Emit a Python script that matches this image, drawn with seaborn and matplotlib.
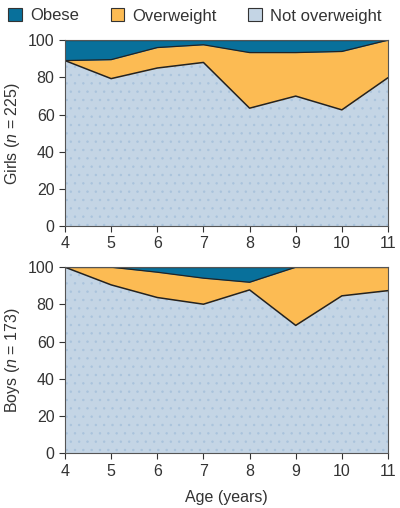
import numpy as np
import pandas as pd
import seaborn as sns
import matplotlib.pyplot as plt
from matplotlib.patches import Patch

# ===== data (percent of children) =====
ages = [4, 5, 6, 7, 8, 9, 10, 11]

girls_not_overweight = [89.0, 79.3, 85.0, 88.0, 63.4, 69.9, 62.5, 79.8]
girls_overweight = [0.0, 10.2, 11.0, 9.5, 29.9, 23.4, 31.4, 20.2]
girls_obese = [11.0, 10.5, 4.0, 2.5, 6.7, 6.7, 6.1, 0.0]

boys_not_overweight = [100.0, 90.5, 83.7, 80.1, 87.8, 68.7, 84.6, 87.4]
boys_overweight = [0.0, 9.5, 13.6, 14.0, 4.1, 31.3, 15.4, 12.6]
boys_obese = [0.0, 0.0, 2.7, 5.9, 8.1, 0.0, 0.0, 0.0]

categories = ["Obese", "Overweight", "Not overweight"]
panel_labels = ["Girls ($\\it{n}$ = 225)", "Boys ($\\it{n}$ = 173)"]

colors = {"Obese": "#08709b", "Overweight": "#fcbb53", "Not overweight": "#c4d5e5"}
text_color = "#333333"

sns.set_style("ticks")
plt.rcParams['font.family'] = ['Liberation Sans', 'DejaVu Sans']
plt.rcParams['mathtext.fontset'] = 'custom'
plt.rcParams['mathtext.it'] = 'Liberation Sans:italic'
plt.rcParams['mathtext.rm'] = 'Liberation Sans'
plt.rcParams['text.color'] = text_color
plt.rcParams['axes.labelcolor'] = text_color
plt.rcParams['hatch.linewidth'] = 0.5


def plot_panel(ax, not_ow, ow, ob, ylabel):
    df = pd.DataFrame({"age": ages, "Not overweight": not_ow,
                       "Overweight": ow, "Obese": ob})
    df["ow_top"] = df["Not overweight"] + df["Overweight"]
    df["ob_top"] = df["ow_top"] + df["Obese"]

    ax.fill_between(df["age"], 0, df["Not overweight"], color=colors["Not overweight"], lw=0)
    ax.fill_between(df["age"], 0, df["Not overweight"], facecolor="none",
                    edgecolor="#a9c3dc", hatch="..", lw=0)
    ax.fill_between(df["age"], df["Not overweight"], df["ow_top"], color=colors["Overweight"], lw=0)
    ax.fill_between(df["age"], df["ow_top"], df["ob_top"], color=colors["Obese"], lw=0)

    sns.lineplot(data=df, x="age", y="Not overweight", ax=ax, color="#222222", lw=1.1)
    sns.lineplot(data=df, x="age", y="ow_top", ax=ax, color="#222222", lw=0.9)
    sns.lineplot(data=df, x="age", y="ob_top", ax=ax, color="#222222", lw=0.9)

    ax.set_xlim(4, 11)
    ax.set_ylim(0, 100)
    ax.set_xticks(ages)
    ax.set_yticks([0, 20, 40, 60, 80, 100])
    ax.tick_params(labelsize=11.5, length=4, width=0.8, colors=text_color)
    ax.set_ylabel(ylabel, fontsize=11.5, labelpad=4)
    ax.set_xlabel("")
    for side in ["left", "bottom", "top", "right"]:
        ax.spines[side].set_color("#555555")
        ax.spines[side].set_linewidth(0.8)


fig = plt.figure(figsize=(4.0, 5.08), dpi=100)
ax1 = fig.add_axes([0.1625, 0.555, 0.8075, 0.366])
ax2 = fig.add_axes([0.1625, 0.108, 0.8075, 0.366])

plot_panel(ax1, girls_not_overweight, girls_overweight, girls_obese, panel_labels[0])
plot_panel(ax2, boys_not_overweight, boys_overweight, boys_obese, panel_labels[1])
ax2.set_xlabel("Age (years)", fontsize=11.5, labelpad=8)

handles = [Patch(facecolor=colors[c], edgecolor="#333333", linewidth=0.8, label=c) for c in categories]
fig.legend(handles=handles, loc="upper left", bbox_to_anchor=(0.0, 0.945, 0.975, 0.055),
           mode="expand", ncol=3, frameon=False, fontsize=12,
           handlelength=0.8, handleheight=0.8, handletextpad=0.5, borderaxespad=0.1)

fig.savefig("out.png", dpi=100, facecolor="white")
